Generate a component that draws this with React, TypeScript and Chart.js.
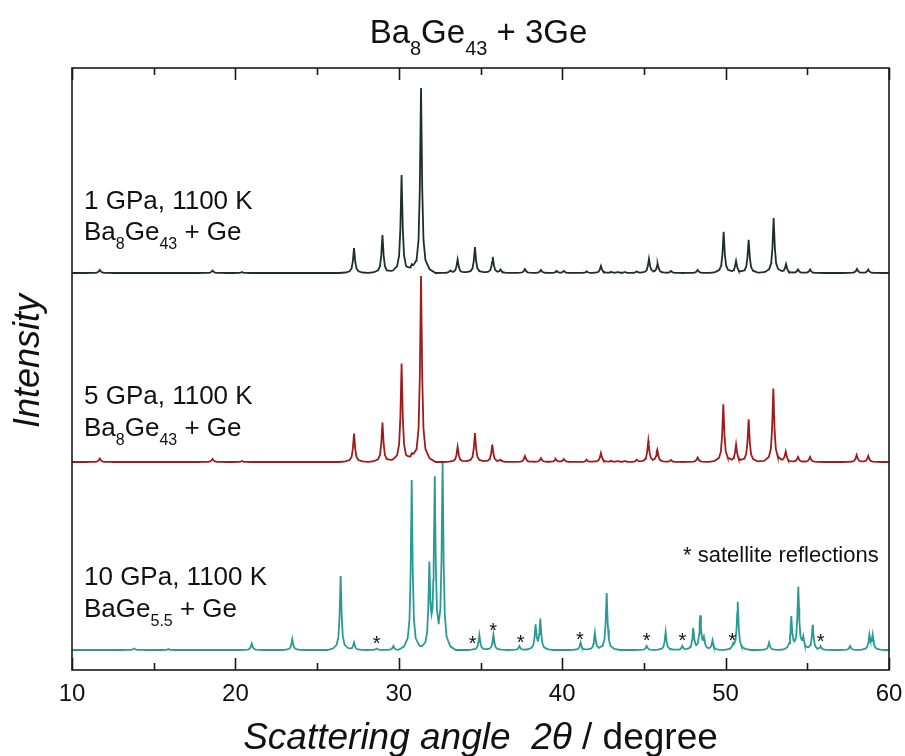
import React, { useEffect, useRef } from 'react';
import { Chart, registerables } from 'chart.js';

Chart.register(...registerables);

// ---------- data ----------
const xMajorTicks = [10, 20, 30, 40, 50, 60];
const xMinorTicks = [15, 25, 35, 45, 55];

// 1 GPa, 1100 K  (Ba8Ge43 + Ge)
const angles1GPa = [11.7, 18.6, 20.4, 27.26, 29.0, 30.17, 30.8, 31.36, 33.15, 33.6, 34.66, 35.75, 36.23, 37.72, 38.7, 39.66, 40.1, 41.5, 42.37, 43.0, 43.4, 43.85, 44.56, 45.31, 45.84, 46.66, 48.29, 49.88, 50.64, 51.41, 52.94, 53.7, 54.43, 55.17, 58.04, 58.73];
const intensity1GPa = [3, 2.5, 1, 25, 38, 98, 4, 185, 2, 13.5, 26, 16, 3, 4, 3, 2, 2, 1.5, 7, 1, 1, 1, 1.5, 14, 9, 2, 3, 41, 11.5, 33, 55, 8.5, 3.5, 3.5, 4, 3.5];
const offset1GPa = 397;

// 5 GPa, 1100 K  (Ba8Ge43 + Ge)
const angles5GPa = [11.7, 18.6, 20.4, 27.26, 29.0, 30.17, 30.8, 31.36, 33.6, 34.66, 35.72, 36.23, 37.72, 38.7, 39.6, 40.1, 41.5, 42.37, 43.0, 43.4, 43.85, 44.56, 45.27, 45.82, 46.66, 48.29, 49.86, 50.64, 51.41, 52.92, 53.68, 54.43, 55.17, 58.02, 58.73];
const intensity5GPa = [3.5, 3, 1, 28.5, 39.5, 98.5, 4, 186, 15, 29, 17.5, 2, 6, 4, 3, 3, 2, 9, 1, 1, 1, 2, 21, 12, 2, 4.5, 57.5, 17, 42.5, 73.5, 10, 5, 5, 7, 6];
const offset5GPa = 208;

// 10 GPa, 1100 K  (BaGe5.5 + Ge)
const angles10GPa = [13.8, 15.9, 21.0, 23.48, 26.44, 27.26, 28.65, 29.67, 30.79, 31.87, 32.2, 32.68, 34.93, 35.79, 37.38, 38.37, 38.66, 41.13, 42.0, 42.72, 45.17, 46.33, 47.35, 48.02, 48.45, 48.67, 49.2, 50.47, 50.74, 52.66, 54.02, 54.45, 54.75, 55.33, 55.82, 57.62, 58.8, 59.0];
const intensity10GPa = [1.5, 1, 6.5, 11, 74, 7.5, 1.5, 4, 170, 80, 166, 185, 15, 15.5, 4, 24, 30, 7.5, 17, 57, 4, 18, 4, 21, 33, 10, 9.5, 4, 48, 7.5, 32, 62, 10, 25, 3, 4, 14, 14];
const offset10GPa = 20;

// satellite reflections (marked with *)
const satelliteAngles = [28.65, 34.52, 35.78, 37.46, 41.09, 45.17, 47.35, 50.41, 55.82];

const titleRuns = [
  { t: 'Ba' }, { t: '8', sub: true }, { t: 'Ge' }, { t: '43', sub: true }, { t: ' + 3Ge' },
];
const label1GPa = ['1 GPa, 1100 K', [{ t: 'Ba' }, { t: '8', sub: true }, { t: 'Ge' }, { t: '43', sub: true }, { t: ' + Ge' }]] as const;
const label5GPa = ['5 GPa, 1100 K', [{ t: 'Ba' }, { t: '8', sub: true }, { t: 'Ge' }, { t: '43', sub: true }, { t: ' + Ge' }]] as const;
const label10GPa = ['10 GPa, 1100 K', [{ t: 'BaGe' }, { t: '5.5', sub: true }, { t: ' + Ge' }]] as const;
const yTitle = 'Intensity';
const xTitleRuns = [{ t: 'Scattering angle  2\u03B8', it: true }, { t: ' / degree' }];
const satelliteNote = '* satellite reflections';

// ---------- rendering helpers ----------
const FONT = '"Liberation Sans", Arial, Helvetica, sans-serif';
const profDx = [0, 0.05, 0.1, 0.18, 0.35, 0.6];
const profFr = [1, 0.45, 0.18, 0.07, 0.02, 0];
const WIDTH_BA8 = 1.5;
const WIDTH_BAGE = 1.35;

function shape(dx: number, w: number) {
  const a = Math.abs(dx) / w;
  if (a >= profDx[profDx.length - 1]) return 0;
  for (let i = 0; i < profDx.length - 1; i++) {
    if (a >= profDx[i] && a <= profDx[i + 1]) {
      const f = (a - profDx[i]) / (profDx[i + 1] - profDx[i]);
      return profFr[i] + f * (profFr[i + 1] - profFr[i]);
    }
  }
  return 0;
}

function traceAt(x: number, angles: number[], heights: number[], base: number, w: number) {
  let y = base;
  for (let i = 0; i < angles.length; i++) y += heights[i] * shape(x - angles[i], w);
  return y;
}

function buildTrace(angles: number[], heights: number[], base: number, w: number) {
  const set = new Set<number>([10, 60]);
  angles.forEach((p) =>
    profDx.forEach((d) => {
      set.add(+(p - d * w).toFixed(4));
      set.add(+(p + d * w).toFixed(4));
    })
  );
  const xs = Array.from(set).filter((v) => v >= 10 && v <= 60).sort((a, b) => a - b);
  return xs.map((x) => ({ x, y: traceAt(x, angles, heights, base, w) }));
}

type Run = { t: string; sub?: boolean; it?: boolean };

function drawRuns(ctx: CanvasRenderingContext2D, runs: readonly Run[], x: number, y: number, size: number, align: 'left' | 'center') {
  const fontFor = (r: Run) => `${r.it ? 'italic ' : ''}${r.sub ? Math.round(size * 0.62) : size}px ${FONT}`;
  let total = 0;
  runs.forEach((r) => {
    ctx.font = fontFor(r);
    total += ctx.measureText(r.t).width;
  });
  let cx = align === 'center' ? x - total / 2 : x;
  ctx.textAlign = 'left';
  ctx.textBaseline = 'alphabetic';
  runs.forEach((r) => {
    ctx.font = fontFor(r);
    ctx.fillText(r.t, cx, r.sub ? y + size * 0.35 : y);
    cx += ctx.measureText(r.t).width;
  });
}

const decorPlugin = {
  id: 'decor',
  afterDraw(chart: any) {
    const { ctx, chartArea } = chart;
    const { left, right, top, bottom } = chartArea;
    const xs = chart.scales.x;
    const ys = chart.scales.y;
    ctx.save();
    ctx.strokeStyle = '#1a1a1a';
    ctx.lineWidth = 1.6;
    ctx.strokeRect(left, top, right - left, bottom - top);
    ctx.beginPath();
    xMajorTicks.forEach((v) => {
      const px = Math.round(xs.getPixelForValue(v)) + 0.5;
      ctx.moveTo(px, bottom); ctx.lineTo(px, bottom - 12);
      ctx.moveTo(px, top); ctx.lineTo(px, top + 12);
    });
    xMinorTicks.forEach((v) => {
      const px = Math.round(xs.getPixelForValue(v)) + 0.5;
      ctx.moveTo(px, bottom); ctx.lineTo(px, bottom - 7);
      ctx.moveTo(px, top); ctx.lineTo(px, top + 7);
    });
    ctx.stroke();

    ctx.fillStyle = '#111';
    // title
    drawRuns(ctx, titleRuns, (left + right) / 2 - 2, 43, 33, 'center');
    // series labels
    const labels = [
      [label1GPa, 209, 240],
      [label5GPa, 404, 436],
      [label10GPa, 585, 617],
    ] as const;
    labels.forEach(([lab, y1, y2]) => {
      drawRuns(ctx, [{ t: lab[0] }], 84, y1, 26, 'left');
      drawRuns(ctx, lab[1], 84, y2, 26, 'left');
    });
    // satellite note
    drawRuns(ctx, [{ t: satelliteNote }], 683, 562, 22, 'left');
    // asterisks
    ctx.font = `20px ${FONT}`;
    ctx.textAlign = 'center';
    ctx.textBaseline = 'alphabetic';
    satelliteAngles.forEach((a) => {
      const val = traceAt(a, angles10GPa, intensity10GPa, offset10GPa, WIDTH_BAGE);
      const px = xs.getPixelForValue(a);
      const py = ys.getPixelForValue(val) - 10;
      ctx.fillText('*', px, py + 11);
    });
    // y title
    ctx.save();
    ctx.translate(39, (top + bottom) / 2 - 8);
    ctx.rotate(-Math.PI / 2);
    ctx.font = `italic 36px ${FONT}`;
    ctx.textAlign = 'center';
    ctx.textBaseline = 'alphabetic';
    ctx.fillText(yTitle, 0, 0);
    ctx.restore();
    // x title
    drawRuns(ctx, xTitleRuns, (left + right) / 2, 749, 37, 'center');
    ctx.restore();
  },
};

export default function App() {
  const ref = useRef<HTMLCanvasElement | null>(null);
  useEffect(() => {
    if (!ref.current) return;
    const chart = new Chart(ref.current, {
      type: 'line',
      data: {
        datasets: [
          {
            label: '1 GPa, 1100 K',
            data: buildTrace(angles1GPa, intensity1GPa, offset1GPa, WIDTH_BA8),
            borderColor: '#1e2d2d',
            borderWidth: 1.8,
            pointRadius: 0,
            tension: 0,
          },
          {
            label: '5 GPa, 1100 K',
            data: buildTrace(angles5GPa, intensity5GPa, offset5GPa, WIDTH_BA8),
            borderColor: '#a01b1b',
            borderWidth: 1.8,
            pointRadius: 0,
            tension: 0,
          },
          {
            label: '10 GPa, 1100 K',
            data: buildTrace(angles10GPa, intensity10GPa, offset10GPa, WIDTH_BAGE),
            borderColor: '#2a9a97',
            borderWidth: 1.8,
            pointRadius: 0,
            tension: 0,
          },
        ],
      },
      options: {
        animation: false,
        responsive: true,
        maintainAspectRatio: false,
        devicePixelRatio: 1,
        layout: { padding: { left: 72, right: 16, top: 68, bottom: 0 } },
        plugins: { legend: { display: false }, tooltip: { enabled: false }, title: { display: false } },
        scales: {
          x: {
            type: 'linear',
            min: 10,
            max: 60,
            grid: { display: false, drawTicks: false },
            border: { display: false },
            afterBuildTicks: (s: any) => {
              s.ticks = xMajorTicks.map((v) => ({ value: v }));
            },
            afterFit: (s: any) => {
              s.height = 86;
              s.paddingLeft = 0;
              s.paddingRight = 0;
            },
            ticks: {
              autoSkip: false,
              maxRotation: 0,
              padding: 10,
              color: '#111',
              font: { size: 24, family: FONT },
              callback: (v: any) => String(v),
            },
          },
          y: { type: 'linear', display: false, min: 0, max: 602 },
        },
      },
      plugins: [decorPlugin],
    });
    return () => chart.destroy();
  }, []);
  return (
    <div style={{ position: 'absolute', left: 0, top: 0, width: 905, height: 756, background: '#fff' }}>
      <canvas ref={ref} />
    </div>
  );
}
